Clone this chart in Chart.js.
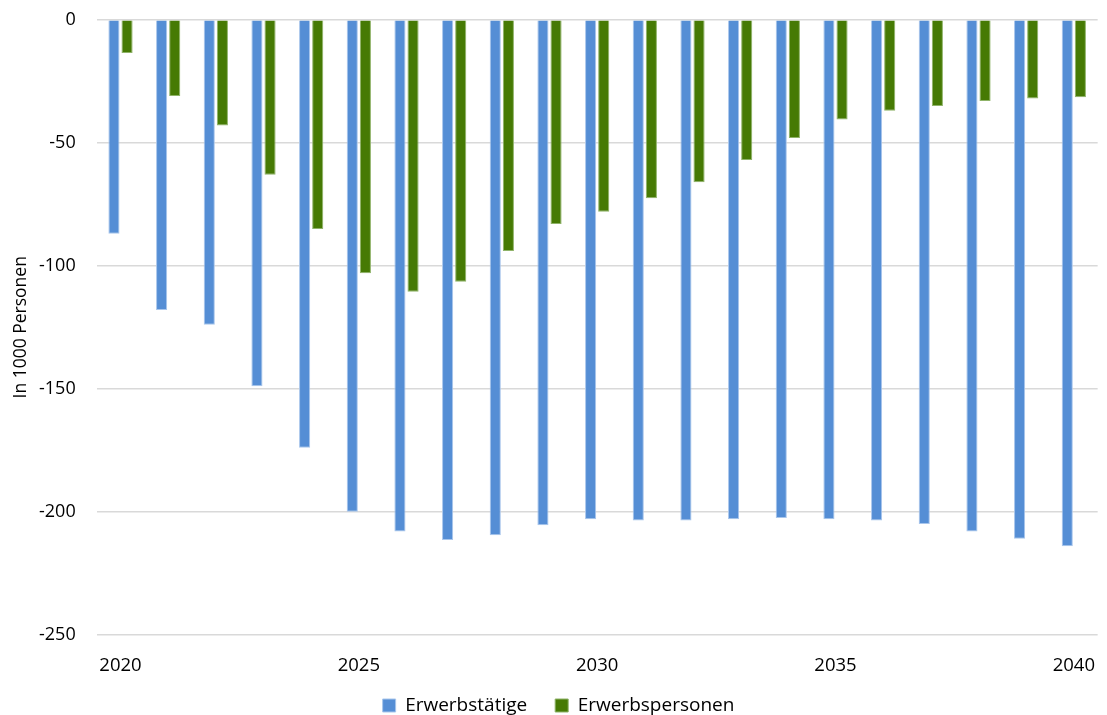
<!DOCTYPE html>
<html>
<head>
<meta charset="utf-8">
<script src="https://cdn.jsdelivr.net/npm/chart.js@4/dist/chart.umd.min.js"></script>
<style>
  html, body { margin: 0; padding: 0; background: #fff; overflow: hidden; }
  /* canvas shifted up a little so the plot area lines up with the original */
  #wrap { width: 1107px; height: 736px; position: relative; top: -12px; }
</style>
</head>
<body>
<div id="wrap"><canvas id="chart"></canvas></div>
<script>
// Years on the category axis
const years = ['2020', '2021', '2022', '2023', '2024', '2025', '2026', '2027', '2028', '2029', '2030',
               '2031', '2032', '2033', '2034', '2035', '2036', '2037', '2038', '2039', '2040'];

// Change in 1000 persons
const erwerbstaetige = [-87, -118, -124, -149, -174, -200, -208, -211.5, -209.5, -205.5, -203,
                        -203.5, -203.5, -203, -202.5, -203, -203.5, -205, -208, -211, -214];
const erwerbspersonen = [-13.5, -31, -43, -63, -85, -103, -110.5, -106.5, -94, -83, -78,
                         -72.5, -66, -57, -48, -40.5, -37, -35, -33, -32, -31.5];

const yTicks = [0, -50, -100, -150, -200, -250];

const FONT = "'Open Sans', 'Noto Sans', sans-serif";

// legend padding also sets the gap between items; trim the extra height it adds
// and draw the items a bit higher
const legendTrim = {
    id: 'legendTrim',
    beforeUpdate(chart) {
        const lg = chart.legend;
        if (lg && !lg._trimmed) {
            const fit = lg.fit;
            lg.fit = function () {
                fit.call(this);
                this.height -= 22;
            };
            const draw = lg.draw;
            lg.draw = function () {
                const top = this.top;
                this.top = top - 21;
                draw.call(this);
                this.top = top;
            };
            lg._trimmed = true;
        }
    }
};

new Chart(document.getElementById('chart').getContext('2d'), {
    type: 'bar',
    data: {
        labels: years,
        datasets: [{
            label: 'Erwerbstätige',
            data: erwerbstaetige,
            backgroundColor: '#558ed5',
            borderColor: '#a9c6ec',
            borderWidth: 1,
            barPercentage: 0.85,
            categoryPercentage: 0.55
        }, {
            label: 'Erwerbspersonen',
            data: erwerbspersonen,
            backgroundColor: '#467a04',
            borderColor: '#8fb368',
            borderWidth: 1,
            barPercentage: 0.85,
            categoryPercentage: 0.55
        }]
    },
    options: {
        responsive: true,
        maintainAspectRatio: false,
        animation: false,
        layout: { padding: { top: 0, right: 1, left: 11, bottom: 0 } },
        scales: {
            x: {
                grid: { display: false },
                border: { display: false },
                ticks: {
                    autoSkip: false,
                    maxRotation: 0,
                    color: '#000',
                    padding: 12,
                    font: { family: FONT, size: 18.5 },
                    callback: (v, i) => (i % 5 === 0 ? years[i] : '')
                }
            },
            y: {
                min: -250,
                max: 0,
                afterBuildTicks: (axis) => { axis.ticks = yTicks.map(v => ({ value: v })); },
                // axis reserves more room than the labels need
                afterFit: (axis) => { axis.width -= 16; },
                grid: { color: '#d9d9d9', lineWidth: 1.5, drawTicks: false },
                border: { display: false },
                ticks: {
                    color: '#000',
                    padding: 21,
                    font: { family: FONT, size: 18 }
                },
                title: {
                    display: true,
                    text: 'In 1000 Personen',
                    color: '#000',
                    padding: { top: 0, bottom: 2 },
                    font: { family: FONT, size: 17.5 }
                }
            }
        },
        plugins: {
            legend: {
                position: 'bottom',
                labels: {
                    boxWidth: 13,
                    boxHeight: 13,
                    padding: 28,
                    color: '#000',
                    font: { family: FONT, size: 19 }
                }
            },
            tooltip: { enabled: false }
        }
    },
    plugins: [legendTrim]
});
</script>
</body>
</html>
